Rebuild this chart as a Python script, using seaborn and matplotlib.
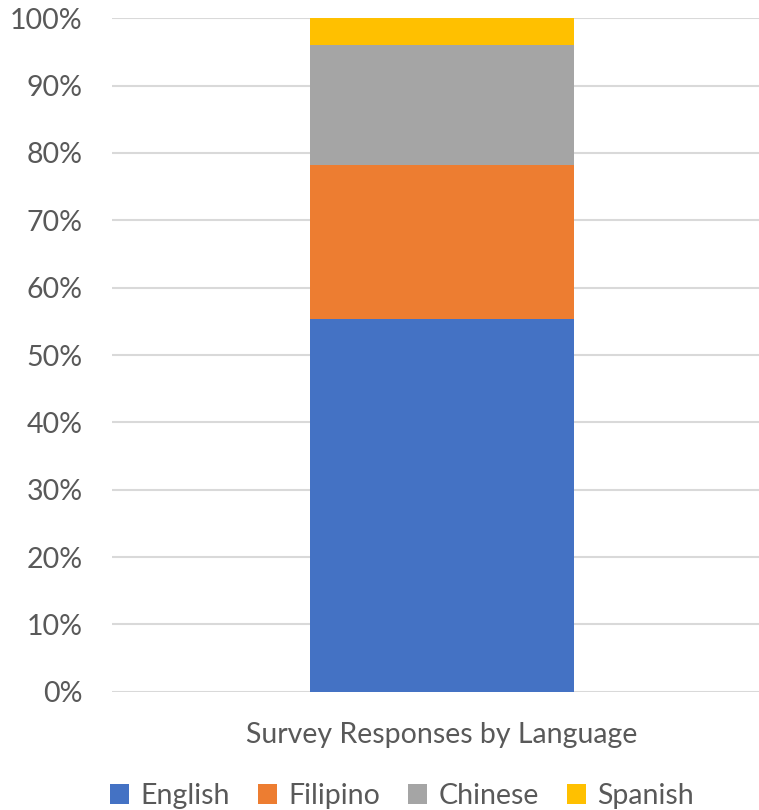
import matplotlib
matplotlib.use("Agg")
import matplotlib.pyplot as plt
import seaborn as sns
import pandas as pd
import numpy as np
from matplotlib.patches import Patch
from matplotlib.ticker import PercentFormatter

categories = ["Survey Responses by Language"]
languages = ["English", "Filipino", "Chinese", "Spanish"]
shares = [55.3, 22.9, 17.8, 4.0]
colors = ["#4472C4", "#ED7D31", "#A5A5A5", "#FFC000"]
y_ticks = [0, 10, 20, 30, 40, 50, 60, 70, 80, 90, 100]

sns.set_theme(style="white")
plt.rcParams["font.family"] = ["Lato", "DejaVu Sans"]

text_color = "#595959"
grid_color = "#D9D9D9"
fs = 20.5

fig = plt.figure(figsize=(7.59, 8.10), dpi=100)
ax = fig.add_axes([112/759, 1 - 691.7/810, 660/759, (691.7 - 18.3)/810])

cum = np.cumsum(shares)
# draw from top segment down so lower segments overlay
for lang, top, col in reversed(list(zip(languages, cum, colors))):
    df = pd.DataFrame({"cat": categories, "val": [top]})
    sns.barplot(data=df, x="cat", y="val", color=col, width=0.4,
                linewidth=0, saturation=1, ax=ax, zorder=2)

ax.set_ylim(0, 100)
ax.set_xlim(-0.5, 0.5)
ax.set_yticks(y_ticks)
ax.yaxis.set_major_formatter(PercentFormatter(decimals=0))
ax.set_xlabel("")
ax.set_ylabel("")
ax.yaxis.grid(True, color=grid_color, linewidth=1.5, zorder=0)
ax.set_axisbelow(True)
for s in ax.spines.values():
    s.set_visible(False)
ax.tick_params(axis="y", length=0, pad=21, labelsize=fs, labelcolor=text_color)
ax.tick_params(axis="x", length=0, pad=22, labelsize=fs, labelcolor=text_color)

handles = [Patch(facecolor=c, edgecolor="none", label=l) for l, c in zip(languages, colors)]
fig.legend(handles=handles, loc="center", bbox_to_anchor=(402/759, 1 - 796/810),
           ncol=4, frameon=False, fontsize=fs, labelcolor=text_color,
           handlelength=0.65, handleheight=0.65, handletextpad=0.4,
           columnspacing=1.0, borderpad=0)

fig.savefig("out.png", dpi=100)
